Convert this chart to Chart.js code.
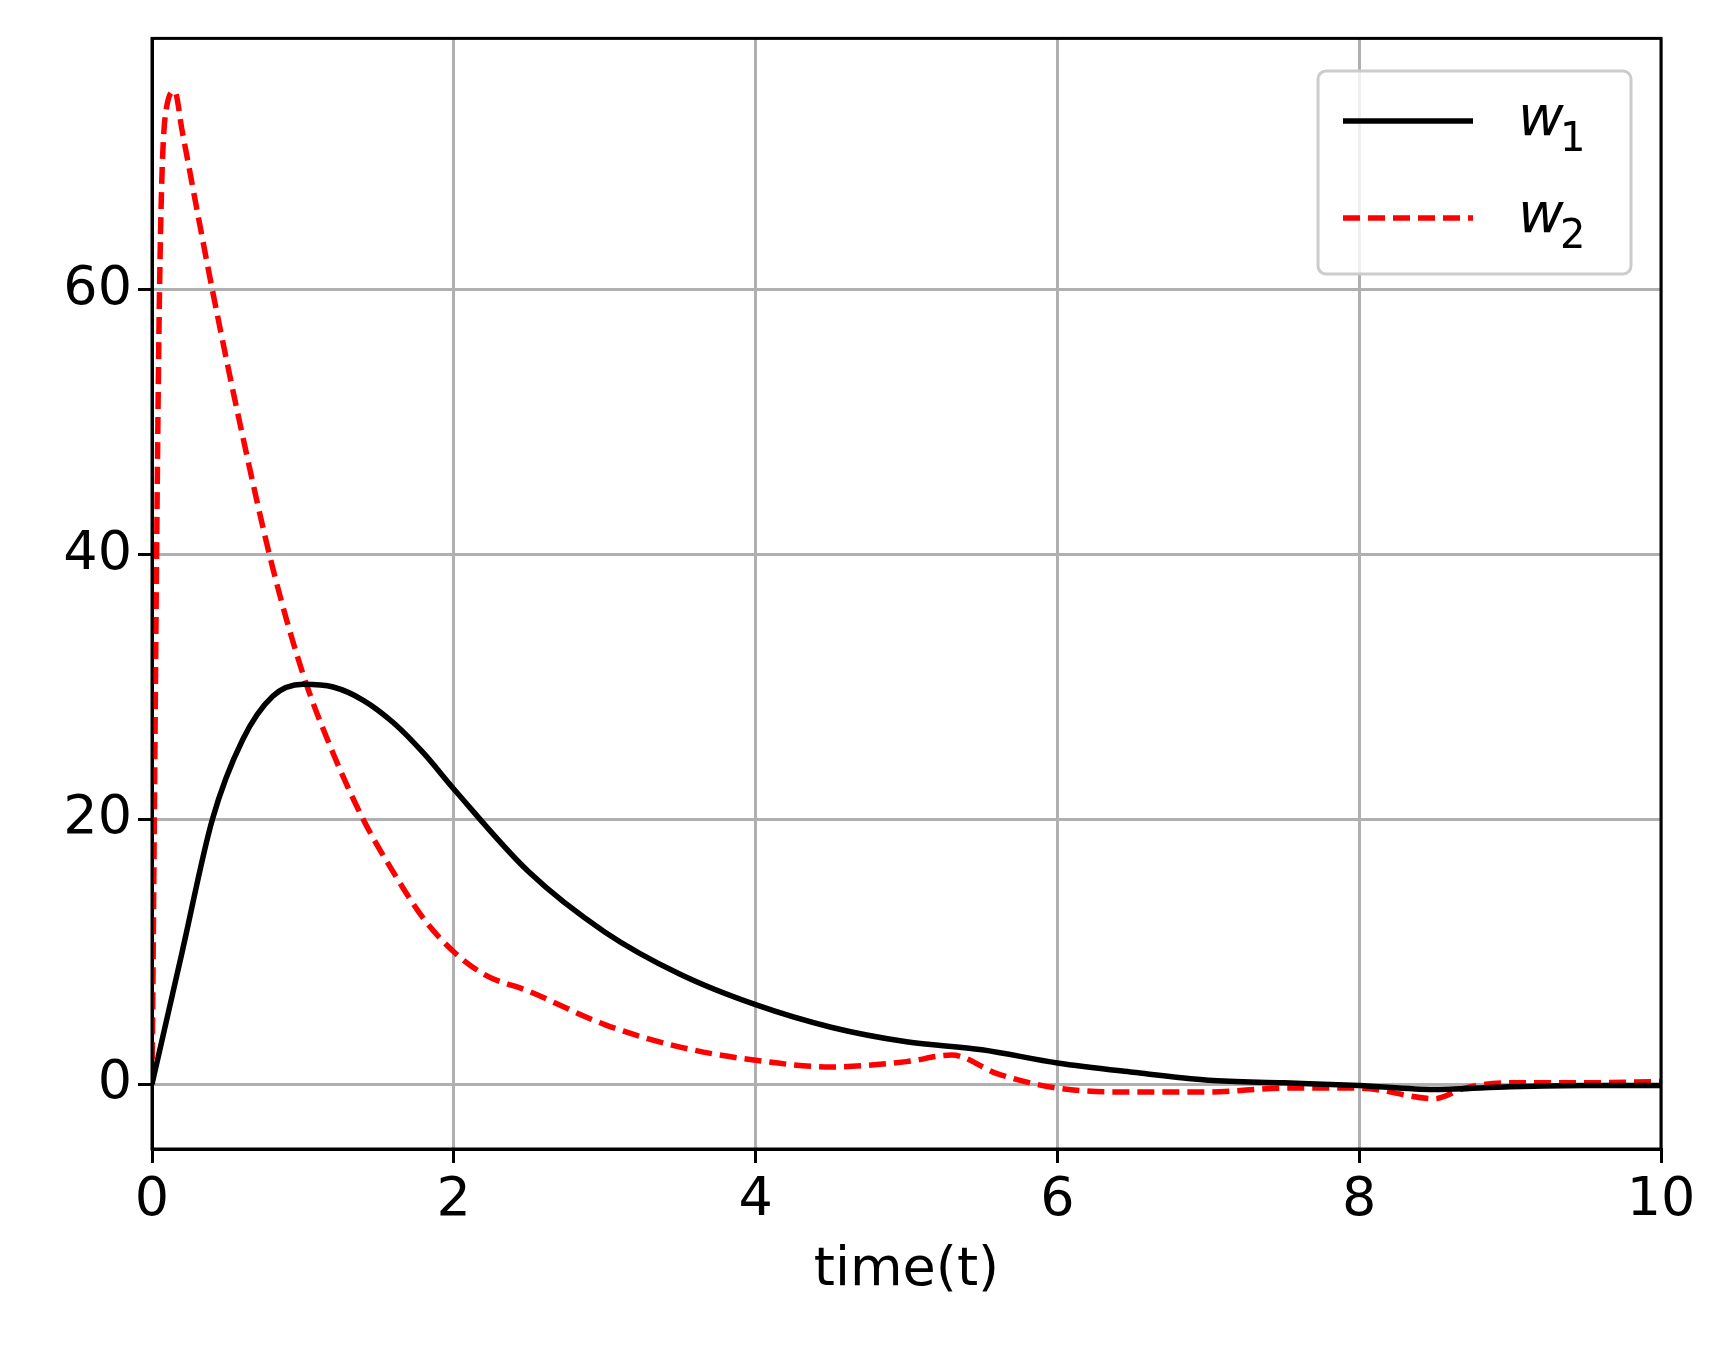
<!DOCTYPE html>
<html><head><meta charset="utf-8">
<script src="https://cdn.jsdelivr.net/npm/chart.js@4/dist/chart.umd.min.js"></script>
<style>html,body{margin:0;background:#fff}#w{width:1724px;height:1357px}</style>
</head><body><div id="w"><canvas id="c"></canvas></div>
<script>
const w1T=[0,0.2,0.4,0.6,0.8,1.0,1.2,1.4,1.6,1.8,2.0,2.5,3,3.5,4,4.5,5,5.5,6,6.5,7,7.5,8,8.5,9,9.5,10];
const w1V=[0,10,20,26,29.3,30.2,30,29,27.3,25,22.3,16,11.5,8.3,6,4.3,3.2,2.6,1.6,0.9,0.3,0.1,-0.1,-0.4,-0.2,-0.1,-0.1];
const w2T=[0,0.05,0.1,0.15,0.2,0.4,0.6,0.8,1.0,1.2,1.4,1.6,1.8,2.0,2.2,2.5,3,3.5,4,4.5,5,5.3,5.6,6,6.5,7,7.5,8,8.5,8.7,9,9.5,10];
const w2V=[0,60,74,75,72,60,49,39,31,25,20,16,12.5,10,8.3,7,4.5,2.8,1.8,1.3,1.7,2.2,0.8,-0.3,-0.6,-0.6,-0.3,-0.3,-1.1,-0.3,0.1,0.1,0.2];
const xTicks=[0,2,4,6,8,10];
const yTicks=[0,20,40,60];
const F='"DejaVu Sans"';
const legendPlugin={id:'lg',afterDraw(ch){
 const c=ch.ctx,a=ch.chartArea;c.save();
 c.strokeStyle='#000';c.lineWidth=3;c.setLineDash([]);c.strokeRect(a.left,a.top,a.right-a.left,a.bottom-a.top);
 const x0=1318,y0=71,w=313,h=203;
 c.fillStyle='rgba(255,255,255,0.8)';c.strokeStyle='#cccccc';c.lineWidth=3;
 c.beginPath();c.roundRect(x0,y0,w,h,8);c.fill();c.stroke();
 const items=[['#000',[],'1'],['#ff0000',[17,8],'2']];
 items.forEach((it,i)=>{const y=y0+50+i*97;
  c.strokeStyle=it[0];c.lineWidth=5.5;c.setLineDash(it[1]);
  c.beginPath();c.moveTo(x0+25,y);c.lineTo(x0+155,y);c.stroke();
  c.setLineDash([]);c.fillStyle='#000';c.textBaseline='alphabetic';
  c.font='italic 56px '+F;c.fillText('w',x0+200,y+14);
  c.font='40px '+F;c.fillText(it[2],x0+242,y+30);});
 c.restore();}};
new Chart(document.getElementById('c'),{type:'line',
 data:{datasets:[
  {label:'w1',data:w1T.map((t,i)=>({x:t,y:w1V[i]})),borderColor:'#000',borderWidth:5.5,pointRadius:0,cubicInterpolationMode:'monotone'},
  {label:'w2',data:w2T.map((t,i)=>({x:t,y:w2V[i]})),borderColor:'#ff0000',borderWidth:5.5,borderDash:[17,8],pointRadius:0,cubicInterpolationMode:'monotone'}]},
 options:{responsive:true,maintainAspectRatio:false,animation:false,
  layout:{padding:{left:0,top:38,right:63,bottom:50}},
  plugins:{legend:{display:false},tooltip:{enabled:false}},
  scales:{
   x:{type:'linear',min:0,max:10,afterBuildTicks:s=>{s.ticks=xTicks.map(v=>({value:v}))},
    afterFit:s=>{s.height=158},
    grid:{color:'#b0b0b0',lineWidth:3,tickColor:'#000',tickLength:14},border:{color:'#000',width:3},
    ticks:{color:'#000',font:{family:F,size:54},padding:6,maxRotation:0},
    title:{display:true,text:'time(t)',color:'#000',font:{family:F,size:54},padding:{top:0}}},
   y:{min:-4.9,max:79,afterBuildTicks:s=>{s.ticks=yTicks.map(v=>({value:v}))},
    afterFit:s=>{s.width=152},
    grid:{color:'#b0b0b0',lineWidth:3,tickColor:'#000',tickLength:14},border:{color:'#000',width:3},
    ticks:{color:'#000',font:{family:F,size:54},padding:6}}}},
 plugins:[legendPlugin]});
</script></body></html>
